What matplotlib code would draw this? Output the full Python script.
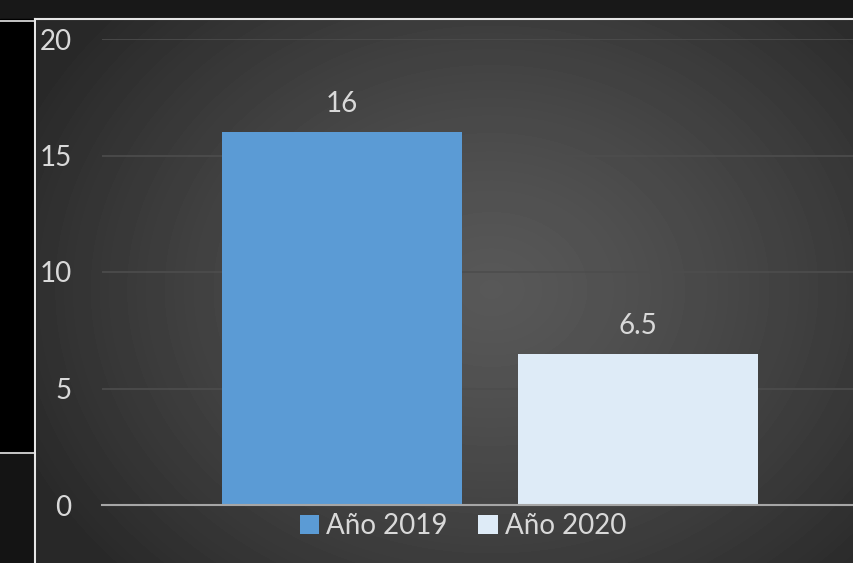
import numpy as np
import matplotlib.pyplot as plt

series = ['Año 2019', 'Año 2020']
values = [16, 6.5]
labels = ['16', '6.5']
colors = ['#5B9BD5', '#DEEBF7']
yticks = [0, 5, 10, 15, 20]

W, H = 854, 563
plt.rcParams['font.family'] = ['Lato', 'DejaVu Sans']

fig = plt.figure(figsize=(W / 100, H / 100), dpi=100)
fig.patch.set_facecolor('#181818')

# left black panel and lower dark part
fig.patches.append(plt.Rectangle((0, (H - 452) / H), 35 / W, (452 - 19) / H,
                                 transform=fig.transFigure, color='black', zorder=0))
fig.patches.append(plt.Rectangle((0, 0), 35 / W, (H - 452) / H,
                                 transform=fig.transFigure, color='#141414', zorder=0))

# radial gradient background of the chart area
bg = fig.add_axes([36 / W, 0, (W - 36) / W, (H - 19) / H])
bg.set_axis_off()
yy, xx = np.mgrid[0:H - 19, 0:W - 36]
cx, cy = 455, 270
r = np.sqrt(((xx - cx) / 520) ** 2 + ((yy - cy) / 420) ** 2)
shade = 88 - 48 * np.clip(r, 0, 1) ** 1.3
bg.imshow(shade, cmap='gray', vmin=0, vmax=255, aspect='auto', interpolation='bilinear')

# white border lines
fig.add_artist(plt.Line2D([35.5 / W, 35.5 / W], [0, (H - 18.5) / H], color='#e6e6e6', lw=1.5))
fig.add_artist(plt.Line2D([35.5 / W, 1], [(H - 18.5) / H, (H - 18.5) / H], color='#e6e6e6', lw=1.5))
fig.add_artist(plt.Line2D([0, 35 / W], [(H - 20.5) / H, (H - 20.5) / H], color='#e6e6e6', lw=1.2))
fig.add_artist(plt.Line2D([0, 35 / W], [(H - 452.5) / H, (H - 452.5) / H], color='#e6e6e6', lw=1.2))

y0, y20 = 505, 39
ax = fig.add_axes([102 / W, (H - y0) / H, 776 / W, (y0 - y20) / H])
ax.set_facecolor('none')

width = 0.31
gap = 0.072
offsets = [-(width + gap) / 2, (width + gap) / 2]
for i in range(len(series)):
    b = ax.bar(0 + offsets[i], values[i], width, color=colors[i], label=series[i], zorder=3)
    ax.text(0 + offsets[i], values[i] + 1.2, labels[i], ha='center', va='center',
            color='#d9d9d9', fontsize=20, zorder=4)

ax.set_xlim(-0.5, 0.5)
ax.set_ylim(0, 20)
ax.set_yticks(yticks)
ax.set_yticklabels([str(v) for v in yticks])
ax.tick_params(axis='y', length=0, pad=22, labelsize=20, labelcolor='#d9d9d9')
ax.set_xticks([])
ax.grid(axis='y', color='#4d4d4d', lw=1.2, zorder=0)
for s in ['top', 'right', 'left']:
    ax.spines[s].set_visible(False)
ax.spines['bottom'].set_color('#a6a6a6')
ax.spines['bottom'].set_linewidth(1.5)
ax.spines['bottom'].set_zorder(5)

fig.legend(loc='center', bbox_to_anchor=(463 / W, (H - 526) / H), ncol=2, frameon=False,
           fontsize=20, labelcolor='#d9d9d9', handlelength=0.7, handleheight=0.7,
           handletextpad=0.25, columnspacing=1.1)

fig.savefig('out.png', dpi=100, facecolor=fig.get_facecolor())
